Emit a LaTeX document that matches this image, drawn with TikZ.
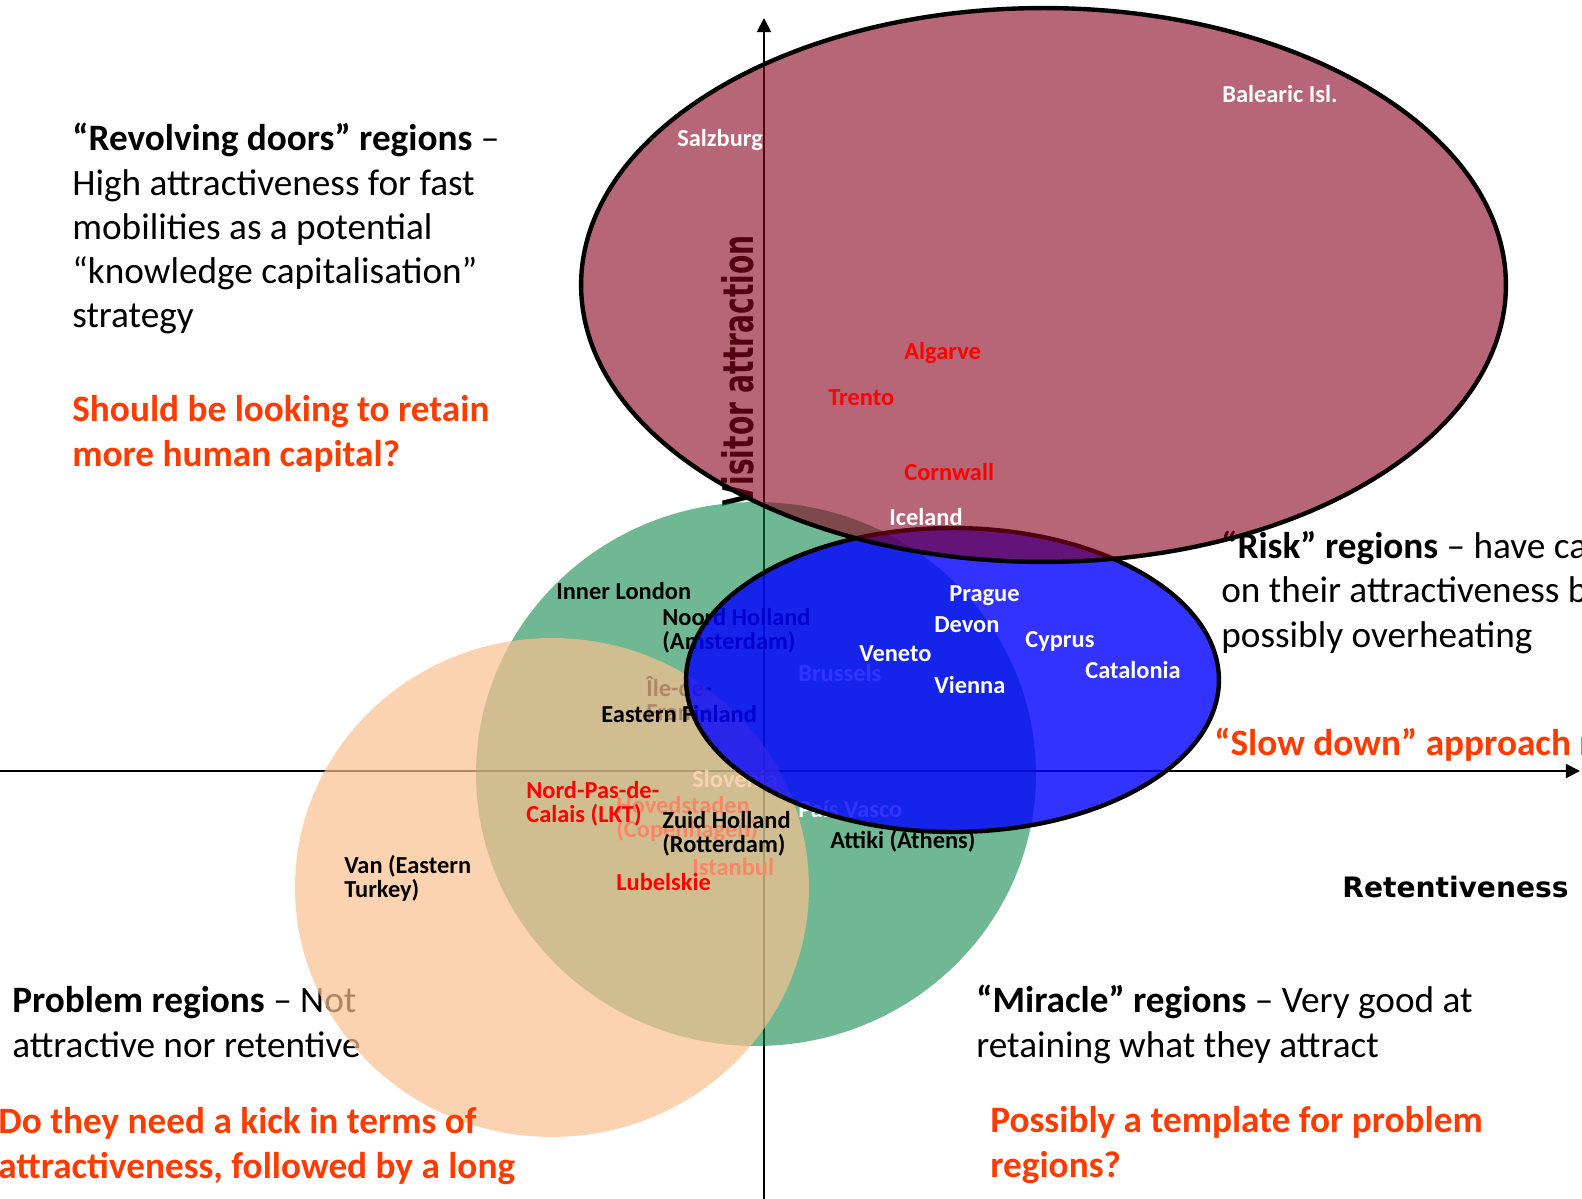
\documentclass[tikz,border=0pt]{standalone}
\usepackage{fontspec}
\setmainfont{Carlito}
\newfontfamily\heavyfont{DejaVu Sans}
\usetikzlibrary{arrows.meta}
\definecolor{grn}{RGB}{0,128,64}
\definecolor{org}{RGB}{250,192,144}
\definecolor{blu}{RGB}{0,0,255}
\definecolor{mar}{RGB}{135,0,30}
\definecolor{qred}{RGB}{255,59,0}
\begin{document}
% multi-line nodes are placed by the baseline of their last line
\begin{tikzpicture}[x=0.02cm,y=-0.02cm,
  lbl/.style={anchor=base west,inner sep=0,align=left,font=\fontsize{13.9}{13.6}\selectfont\bfseries},
  body/.style={anchor=base west,inner sep=0,align=left,font=\fontsize{21.2}{25.2}\selectfont},
  ask/.style={anchor=base west,inner sep=0,align=left,text=qred,font=\fontsize{21.2}{25.2}\selectfont\bfseries},
  axisline/.style={line width=1.1pt,-{Triangle[length=8pt,width=8pt]}},
  heavy/.style={inner sep=0,font=\heavyfont\bfseries\fontsize{16}{16}\selectfont},
]
\useasboundingbox (0,0) rectangle (1582,1199);
\clip (0,0) rectangle (1582,1199);

% axes
\coordinate (xs) at (0,771);
\coordinate (xe) at (1580,771);
\coordinate (ys) at (764,1199);
\coordinate (ye) at (764,18);
\draw[axisline] (xs) -- (xe);
\draw[axisline] (ys) -- (ye);

% texts lying beneath the shaded zones
\node[body] (problem) at (12,1057) {\textbf{Problem regions} – Not\\attractive nor retentive};
\node[body] (risk) at (1221,647) {\textbf{“Risk” regions} – have capitalised\\on their attractiveness but\\possibly overheating};
\node[heavy,rotate=90] (yaxis) at (737.5,371) {\scalebox{1}[1.5]{Visitor attraction}};

% green zone
\fill[grn,fill opacity=0.56] (756,774) ellipse [x radius=5.6cm, y radius=5.44cm];

% labels beneath the orange zone
\node[lbl] (ile) at (646,720) {Île-de-\\France};
\node[lbl,text=white] (slovenia) at (692,787) {Slovenia};
\node[lbl,text=red] (hoved) at (616,837) {Hovedstaden\\(Copenhagen)};
\node[lbl,text=red] (istanbul) at (692,875) {Istanbul};

% orange zone
\fill[org,fill opacity=0.7] (552,887.5) ellipse [x radius=5.14cm, y radius=4.99cm];

% labels between the circles and the ellipses
\node[lbl] (efin) at (601,722) {Eastern Finland};
\node[lbl] (noord) at (662,649) {Noord Holland\\(Amsterdam)};
\node[lbl,text=white] (brussels) at (798,681) {Brussels};
\node[lbl,text=white] (vasco) at (798,817) {País Vasco};
\node[lbl] (london) at (556,599) {Inner London};
\node[lbl,text=red] (npdc) at (526,822) {Nord-Pas-de-\\Calais (LKT)};
\node[lbl] (zuid) at (662,852) {Zuid Holland\\(Rotterdam)};
\node[lbl] (attiki) at (830,848) {Attiki (Athens)};
\node[lbl,text=red] (lubel) at (616,890) {Lubelskie};
\node[lbl] (van) at (344,897) {Van (Eastern\\Turkey)};

% ellipses
\filldraw[fill=blu,fill opacity=0.8,draw=black,line width=2.5pt] (952.5,680) ellipse [x radius=5.33cm, y radius=3.04cm];
\filldraw[fill=mar,fill opacity=0.6,draw=black,line width=2.5pt] (1043.5,285) ellipse [x radius=9.25cm, y radius=5.54cm];

% labels on top
\node[lbl,text=white] (salz) at (677,147) {Salzburg};
\node[lbl,text=white] (bal) at (1222,103) {Balearic Isl.};
\node[lbl,text=red] (alg) at (904,359) {Algarve};
\node[lbl,text=red] (trento) at (828,405) {Trento};
\node[lbl,text=red] (corn) at (904,480) {Cornwall};
\node[lbl,text=white] (ice) at (889,525) {Iceland};
\node[lbl,text=white] (prague) at (949,601) {Prague};
\node[lbl,text=white] (devon) at (934,632) {Devon};
\node[lbl,text=white] (cyprus) at (1025,647) {Cyprus};
\node[lbl,text=white] (veneto) at (859,661) {Veneto};
\node[lbl,text=white] (catal) at (1085,678) {Catalonia};
\node[lbl,text=white] (vienna) at (934,693) {Vienna};

% quadrant commentary
\node[body] (revolv) at (72,328) {\textbf{“Revolving doors” regions} –\\High attractiveness for fast\\mobilities as a potential\\“knowledge capitalisation”\\strategy};
\node[ask] (retain) at (72,466) {Should be looking to retain\\more human capital?};
\node[ask] (kick) at (-2,1178) {Do they need a kick in terms of\\attractiveness, followed by a long};
\node[body] (miracle) at (976,1057) {\textbf{“Miracle” regions} – Very good at\\retaining what they attract};
\node[ask] (templ) at (990,1177) {Possibly a template for problem\\regions?};
\node[ask] (slow) at (1214,755) {“Slow down” approach required?};
\node[heavy,anchor=base west] (xaxis) at (1342,897) {Retentiveness};
\end{tikzpicture}
\end{document}
